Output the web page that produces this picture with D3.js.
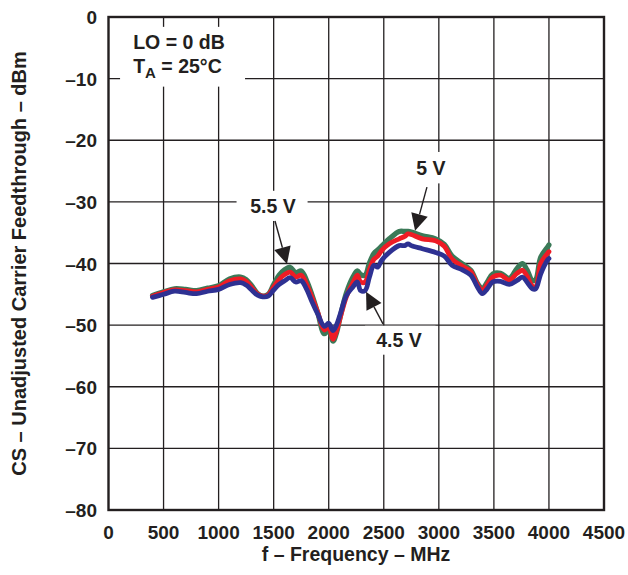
<!DOCTYPE html>
<html>
<head>
<meta charset="utf-8">
<script src="https://cdn.jsdelivr.net/npm/d3@7"></script>
<style>
  html, body { margin: 0; padding: 0; background: #fff; }
  svg { display: block; }
  text { font-family: "Liberation Sans", Arial, Helvetica, sans-serif; font-weight: bold; fill: #231f20; }
</style>
</head>
<body>
<svg id="chart" width="628" height="575"></svg>
<script>
// ---- data ----
const freqMHz = [400,500,600,700,800,900,1000,1100,1200,1250,1300,1350,1400,1450,1500,1550,1600,1650,1700,1750,1800,1850,1900,1960,2000,2040,2070,2110,2160,2220,2260,2290,2330,2370,2410,2445,2480,2550,2640,2690,2720,2750,2850,2970,3050,3120,3210,3290,3350,3395,3440,3490,3560,3640,3710,3760,3800,3850,3880,3925,3985,4000];

const v45 = [-45.5,-45.0,-44.5,-44.7,-44.9,-44.5,-44.2,-43.4,-43.1,-43.5,-44.3,-45.1,-45.4,-45.3,-44.3,-43.4,-42.8,-42.3,-43.0,-42.8,-44.2,-46.3,-48.2,-50.2,-49.7,-50.9,-50.0,-47.9,-45.2,-43.8,-43.0,-44.4,-44.4,-42.2,-40.3,-40.6,-39.5,-38.2,-37.1,-37.1,-36.8,-37.1,-37.6,-38.2,-38.8,-40.3,-41.0,-41.9,-43.8,-44.9,-44.1,-43.0,-42.9,-43.4,-42.75,-42.2,-43.0,-44.1,-44.1,-41.7,-39.5,-39.2];

const v50 = [-45.3,-44.7,-44.3,-44.4,-44.6,-44.2,-43.8,-42.8,-42.5,-42.9,-43.9,-44.9,-45.3,-45.1,-43.8,-42.6,-41.8,-41.4,-42.2,-41.9,-43.4,-45.6,-47.9,-50.8,-50.3,-52.3,-51.0,-48.4,-45.4,-43.1,-41.9,-43.0,-43.0,-41.0,-39.3,-38.8,-37.9,-36.8,-36.0,-35.6,-35.2,-35.3,-36.0,-36.3,-37.2,-39.3,-40.4,-41.3,-43.4,-44.4,-43.4,-42.2,-41.9,-42.7,-41.6,-41.1,-42.0,-43.7,-43.8,-40.0,-38.4,-38.1];

const v55 = [-45.2,-44.6,-44.1,-44.2,-44.4,-44.0,-43.6,-42.5,-42.2,-42.6,-43.6,-44.8,-45.3,-45.0,-43.4,-41.9,-41.0,-40.6,-41.5,-41.2,-42.8,-45.2,-48.0,-51.4,-50.8,-52.6,-51.3,-48.2,-44.8,-42.2,-41.2,-41.8,-41.9,-39.9,-38.4,-37.8,-37.2,-36.0,-34.8,-34.8,-34.8,-34.9,-35.5,-36.0,-36.9,-38.8,-40.0,-41.1,-43.2,-44.1,-43.0,-41.7,-41.6,-42.4,-40.8,-40.0,-41.0,-42.8,-42.6,-39.0,-37.4,-37.0];

const seriesNames = ["5.5 V", "5 V", "4.5 V"];
const xTicks = [0,500,1000,1500,2000,2500,3000,3500,4000,4500];
const yTicks = [0,-10,-20,-30,-40,-50,-60,-70,-80];

// annotations (data units): label position, arrow tail, arrow tip
const annLabels = [
  { text: "5.5 V", lx: 1494, ly: -31.8, tx: 1512, ty: -33.1, hx: 1621, hy: -40.1 },
  { text: "5 V",   lx: 2929, ly: -25.6, tx: 2892, ty: -27.6, hx: 2784, hy: -34.7 },
  { text: "4.5 V", lx: 2638, ly: -53.5, tx: 2493, ty: -49.8, hx: 2339, hy: -44.6 }
];

// ---- layout ----
const svg = d3.select("#chart");
const x = d3.scaleLinear().domain([0, 4500]).range([108.5, 604]);
const y = d3.scaleLinear().domain([-80, 0]).range([510, 17]);
const fmt = d => (d < 0 ? "\u2013" + Math.abs(d) : String(d));

// gridlines
const grid = svg.append("g").attr("stroke", "#231f20").attr("stroke-width", 1.3);
grid.selectAll("line.v").data(xTicks.slice(1, -1)).join("line")
  .attr("x1", d => x(d)).attr("x2", d => x(d)).attr("y1", y(0)).attr("y2", y(-80));
grid.selectAll("line.h").data(yTicks.slice(1, -1)).join("line")
  .attr("x1", x(0)).attr("x2", x(4500)).attr("y1", d => y(d)).attr("y2", d => y(d));

// white boxes behind annotations
svg.append("rect").attr("x", x(105)).attr("y", y(-1.6)).attr("width", x(1240) - x(105)).attr("height", y(-11.3) - y(-1.6)).attr("fill", "#fff");
const boxes = [
  { x0: 1163, x1: 1808, y0: -28.2, y1: -33.1 },
  { x0: 2693, x1: 3193, y0: -21.9, y1: -27.0 },
  { x0: 2330, x1: 2970, y0: -50.1, y1: -54.8 }
];
svg.selectAll("rect.lb").data(boxes).join("rect")
  .attr("x", d => x(d.x0)).attr("y", d => y(d.y0))
  .attr("width", d => x(d.x1) - x(d.x0)).attr("height", d => y(d.y1) - y(d.y0))
  .attr("fill", "#fff");

// series
const line = d3.line().curve(d3.curveCatmullRom.alpha(0.5)).x((d, i) => x(freqMHz[i])).y(d => y(d));
const series = [
  { vals: v55, color: "#3b7a58", w: 5.2 },
  { vals: v50, color: "#ee1c25", w: 4.8 },
  { vals: v45, color: "#2e3192", w: 4.8 }
];
svg.selectAll("path.s").data(series).join("path")
  .attr("d", d => line(d.vals)).attr("fill", "none")
  .attr("stroke", d => d.color).attr("stroke-width", d => d.w)
  .attr("stroke-linejoin", "round").attr("stroke-linecap", "round");

// frame
svg.append("rect").attr("x", x(0)).attr("y", y(0)).attr("width", x(4500) - x(0)).attr("height", y(-80) - y(0))
  .attr("fill", "none").attr("stroke", "#231f20").attr("stroke-width", 2.4);

// tick labels
svg.selectAll("text.xt").data(xTicks).join("text")
  .attr("x", d => x(d)).attr("y", 539).attr("text-anchor", "middle").attr("font-size", 19).text(d => d);
svg.selectAll("text.yt").data(yTicks).join("text")
  .attr("x", 97).attr("y", d => y(d) + 7).attr("text-anchor", "end").attr("font-size", 19).text(fmt);

// axis titles
svg.append("text").attr("x", 356).attr("y", 561).attr("text-anchor", "middle").attr("font-size", 19.5)
  .text("f \u2013 Frequency \u2013 MHz");
svg.append("text").attr("transform", `translate(26,${(y(0) + y(-80)) / 2}) rotate(-90)`)
  .attr("text-anchor", "middle").attr("font-size", 20).text("CS \u2013 Unadjusted Carrier Feedthrough \u2013 dBm");

// condition box text
svg.append("text").attr("x", x(224)).attr("y", y(-5.2)).attr("font-size", 19.5).text("LO = 0 dB");
const t2 = svg.append("text").attr("x", x(224)).attr("y", y(-9.1)).attr("font-size", 19.5);
t2.append("tspan").text("T");
t2.append("tspan").attr("font-size", 15).attr("dy", 5).text("A");
t2.append("tspan").attr("dy", -5).text(" = 25\u00B0C");

// arrows + labels
const ag = svg.append("g");
annLabels.forEach(a => {
  const x1 = x(a.tx), y1 = y(a.ty), x2 = x(a.hx), y2 = y(a.hy);
  const ang = Math.atan2(y2 - y1, x2 - x1);
  const L = 17, W = 8.5;
  const bx = x2 - L * Math.cos(ang), by = y2 - L * Math.sin(ang);
  ag.append("line").attr("x1", x1).attr("y1", y1).attr("x2", bx).attr("y2", by)
    .attr("stroke", "#231f20").attr("stroke-width", 1.4);
  const px = -Math.sin(ang) * W, py = Math.cos(ang) * W;
  ag.append("path").attr("d", `M${x2},${y2}L${bx + px},${by + py}L${bx - px},${by - py}Z`).attr("fill", "#231f20");
  ag.append("text").attr("x", x(a.lx)).attr("y", y(a.ly)).attr("text-anchor", "middle").attr("font-size", 19.5).text(a.text);
});
</script>
</body>
</html>
